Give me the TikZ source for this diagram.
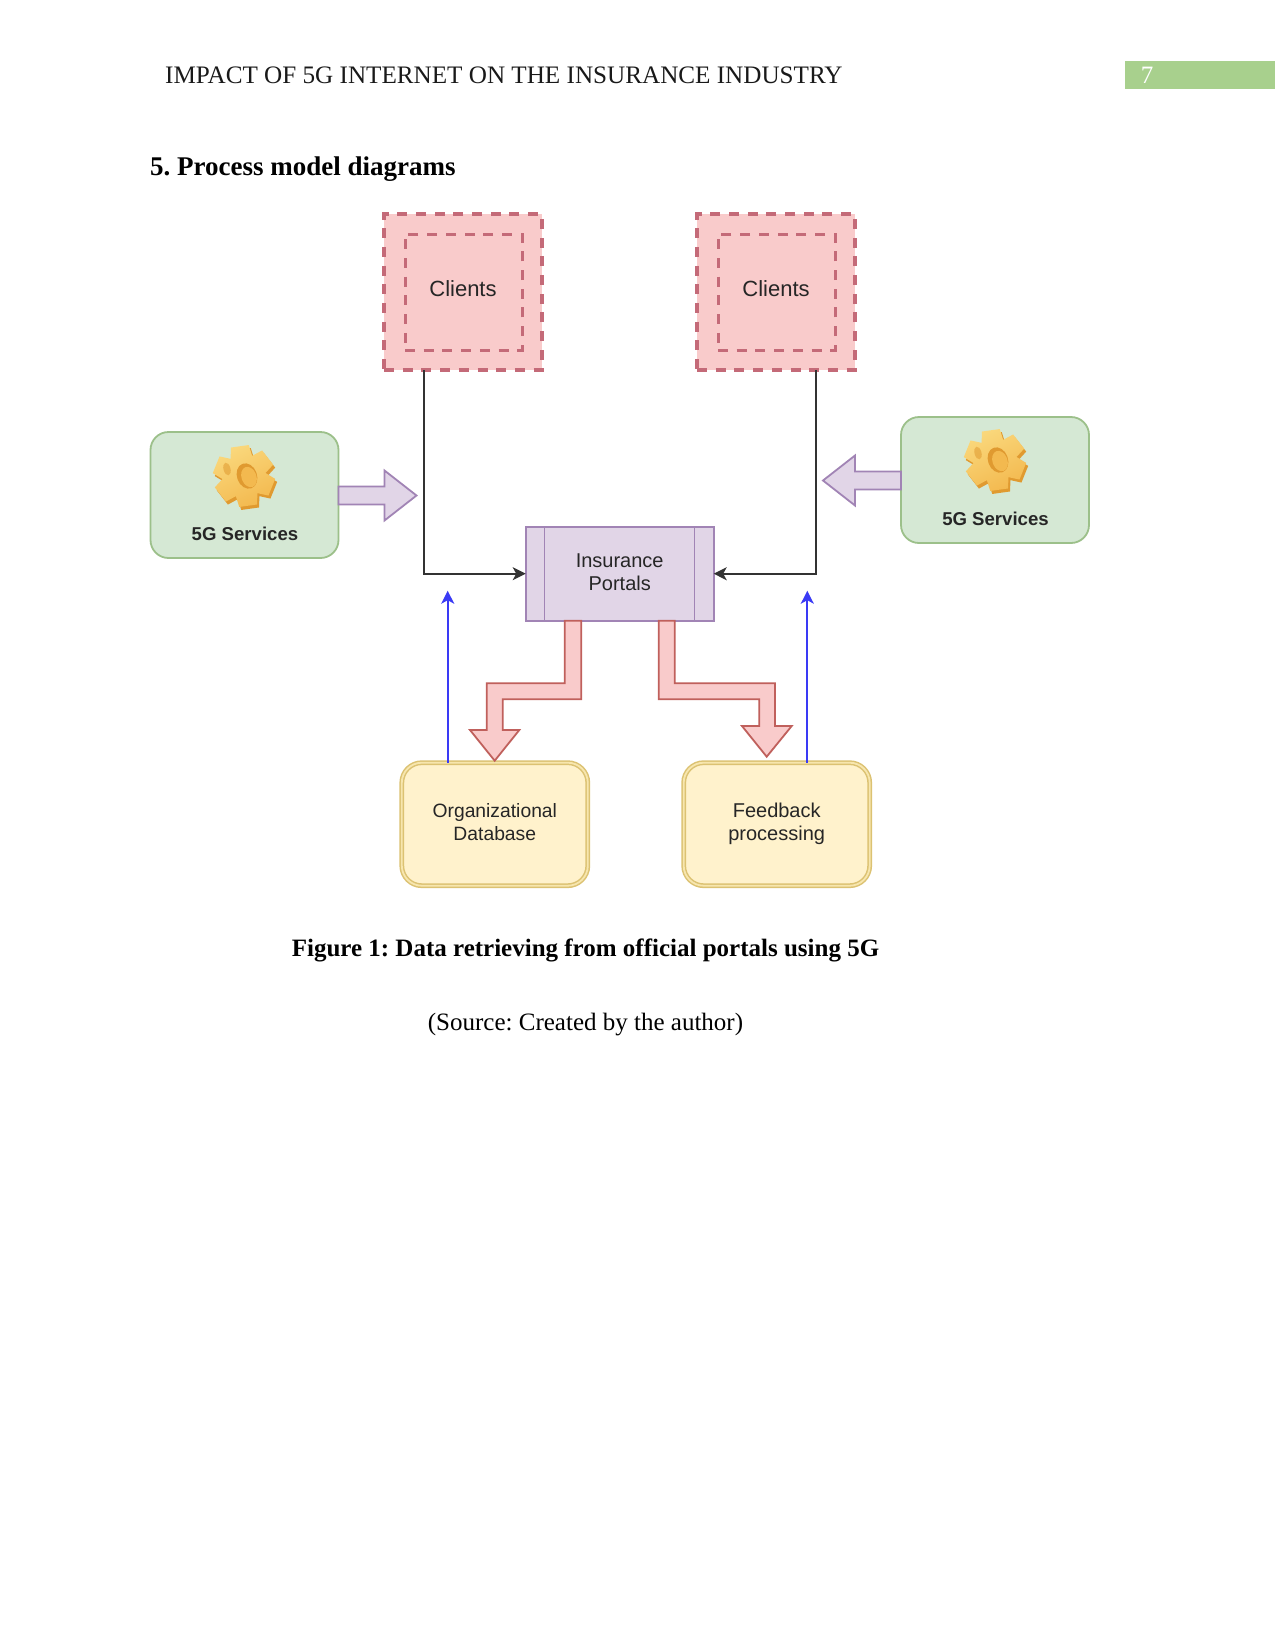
\documentclass[tikz,border=0pt]{standalone}
\usepackage{fontspec}
\setmainfont{Liberation Serif}
\newfontfamily\diagramfont{Liberation Sans}
\usetikzlibrary{arrows.meta,calc}
\frenchspacing
\definecolor{redfill}{HTML}{F9CBCB}
\definecolor{redline}{HTML}{C0605C}
\definecolor{dashline}{HTML}{C46A78}
\definecolor{greenfill}{HTML}{D5E8D4}
\definecolor{greenline}{HTML}{9CC08A}
\definecolor{purplefill}{HTML}{E1D5E7}
\definecolor{purpleline}{HTML}{A184B5}
\definecolor{yellowfill}{HTML}{FFF2CC}
\definecolor{yellowline}{HTML}{DCC272}
\definecolor{yellowband}{HTML}{F7E6AE}
\definecolor{linkblue}{HTML}{3A3AF5}
\definecolor{barGreen}{HTML}{A8D08D}
\definecolor{gearDark}{HTML}{E09A30}
\definecolor{gearMid}{HTML}{F3B94F}
\definecolor{gearLight}{HTML}{FAD87C}
\newcommand{\gearteeth}{%
  (0,0) circle (21)
  \foreach \a in {8,68,...,308} {
    [rotate=\a] (-11,-18) -- (-9,-30) -- (9,-30) -- (11,-18) -- cycle
  }
}
\tikzset{
  x=1pt,y=-1pt,
  boxbase/.style={inner sep=0pt,outer sep=0pt,align=center,text=black!85,
    font=\diagramfont\fontsize{20}{23}\selectfont},
  clientbox/.style={boxbase,draw=dashline,fill=redfill,line width=3.1pt,
    dash pattern=on 10pt off 8.7pt,minimum width=158pt,minimum height=156pt},
  clientinner/.style={boxbase,draw=dashline,line width=3pt,
    dash pattern=on 10pt off 8.7pt,minimum width=117pt,minimum height=116pt},
  clientlabel/.style={boxbase,font=\diagramfont\fontsize{22}{25}\selectfont},
  servicebox/.style={boxbase,draw=greenline,fill=greenfill,line width=1.8pt,
    rounded corners=18pt,minimum width=188pt,minimum height=126pt},
  processbox/.style={boxbase,draw=purpleline,fill=purplefill,line width=1.6pt,
    minimum width=188pt,minimum height=94pt},
  storebox/.style={boxbase,draw=yellowline,fill=yellowfill,double=yellowband,
    double distance=1.8pt,line width=1.5pt,rounded corners=20pt,
    minimum width=186pt,minimum height=123pt},
  servicelabel/.style={inner sep=0pt,text=black!85,
    font=\diagramfont\bfseries\fontsize{18.6}{21}\selectfont},
  flowlink/.style={draw=black!80,line width=1.8pt,
    -{Stealth[length=13pt,width=13pt,inset=3.5pt]}},
  bluelink/.style={draw=linkblue,line width=1.7pt,
    -{Stealth[length=13pt,width=13pt,inset=3.5pt]}},
  purpleblock/.style={draw=purpleline,fill=purplefill,line width=1.8pt,line join=miter},
  redblock/.style={draw=redline,fill=redfill,line width=1.8pt,line join=miter},
  docbody/.style={inner sep=0pt,font=\fontsize{25}{28}\selectfont},
  docbold/.style={inner sep=0pt,font=\bfseries\fontsize{25}{28}\selectfont},
  dochead/.style={inner sep=0pt,font=\bfseries\fontsize{27}{30}\selectfont},
}
\begin{document}
\begin{tikzpicture}
\useasboundingbox (0,0) rectangle (1275,1650);
\fill[white] (0,0) rectangle (1275,1650);

% running head and page number
\node[inner sep=0pt,font=\fontsize{25.15}{28}\selectfont,anchor=west,text=black!90] (head) at (165,75) {IMPACT OF 5G INTERNET ON THE INSURANCE INDUSTRY};
\fill[barGreen] (1125,60.5) rectangle (1275,89);
\node[docbody,text=white] (pageno) at (1147,75) {7};

% section heading
\node[dochead,anchor=west] (section) at (150,169) {5. Process model diagrams};

% client boxes
\node[clientbox] (clientA) at (463,292) {};
\node[clientinner] (clientAin) at (463.5,292) {};
\node[clientlabel] (clientAt) at (463,288.5) {Clients};
\node[clientbox] (clientB) at (776,292) {};
\node[clientinner] (clientBin) at (776.5,292) {};
\node[clientlabel] (clientBt) at (776,288.5) {Clients};

% service boxes
\node[servicebox] (serviceA) at (244.5,495) {};
\node[servicelabel] (serviceAt) at (245,533.5) {5G Services};
\node[servicebox] (serviceB) at (995,480) {};
\node[servicelabel] (serviceBt) at (995.5,518.5) {5G Services};

% gear icons
\foreach \gx/\gy in {244/476,995/460} {
  \begin{scope}[shift={(\gx,\gy)}]
    \fill[gearDark,shift={(2,3)}] \gearteeth;
    \shade[left color=gearLight,right color=gearMid,shading angle=25] \gearteeth;
    \fill[gearDark,rotate around={20:(3,0)}] (3,0) ellipse (10 and 13);
    \fill[gearMid,rotate around={20:(5,1)}] (5,1) ellipse (7.5 and 10.5);
    \fill[gearDark,opacity=.55,rotate around={15:(-17,-7)}] (-17,-7) ellipse (3.5 and 6.5);
  \end{scope}
}

% central portal
\node[processbox] (portal) at (619.7,573.7) {Insurance\\Portals\vphantom{p}};
\draw[purpleline,line width=1.5pt]
  ($(portal.north west)+(19,0)$) -- ($(portal.south west)+(19,0)$)
  ($(portal.north east)+(-19,0)$) -- ($(portal.south east)+(-19,0)$);

% data stores
\node[storebox,font=\diagramfont\fontsize{19.3}{23}\selectfont] (store) at (494.8,824.2) {Organizational\\Database\vphantom{g}};
\node[storebox] (feedback) at (776.7,824.2) {Feedback\\processing};

% block arrows from the services
\draw[purpleblock] (serviceA.east) ++(0,-8.5) -- ++(46,0) -- ++(0,-16) -- ++(32,25)
  -- ++(-32,25) -- ++(0,-16) -- ++(-46,0) -- cycle;
\draw[purpleblock] (serviceB.west) ++(0,-8.5) -- ++(-46,0) -- ++(0,-16) -- ++(-32,25)
  -- ++(32,25) -- ++(0,-16) -- ++(46,0) -- cycle;

% client links into the portal
\draw[flowlink] ($(clientA.south west)+(40,0)$) |- (portal.west);
\draw[flowlink] ($(clientB.south west)+(118.7,0)$) |- (portal.east);

% blue return links
\coordinate (tipA) at (447.7,590.7);
\coordinate (tipB) at (807.3,590.7);
\draw[bluelink] (store.north -| tipA) -- (tipA);
\draw[bluelink] (feedback.north -| tipB) -- (tipB);

% block arrows from the portal
\draw[redblock] (portal.south west) ++(39,0) -- ++(0,62.6) -- ++(-78,0) -- ++(0,46.7)
  -- ++(-16.7,0) -- ++(24.7,30.7) -- ++(24.6,-30.7) -- ++(-16.6,0) -- ++(0,-30.7)
  -- ++(78.6,0) -- ++(0,-78.6) -- cycle;
\draw[redblock] (portal.south west) ++(133,0) -- ++(0,78.6) -- ++(100.6,0) -- ++(0,26.7)
  -- ++(-17.3,0) -- ++(24.7,30.7) -- ++(25,-30.7) -- ++(-16.7,0) -- ++(0,-42.7)
  -- ++(-100.3,0) -- ++(0,-62.6) -- cycle;

% caption
\node[docbold] (caption) at (585.5,950) {Figure 1: Data retrieving from official portals using 5G};
\node[docbody] (source) at (585.5,1025) {(Source: Created by the author)};
\end{tikzpicture}
\end{document}
